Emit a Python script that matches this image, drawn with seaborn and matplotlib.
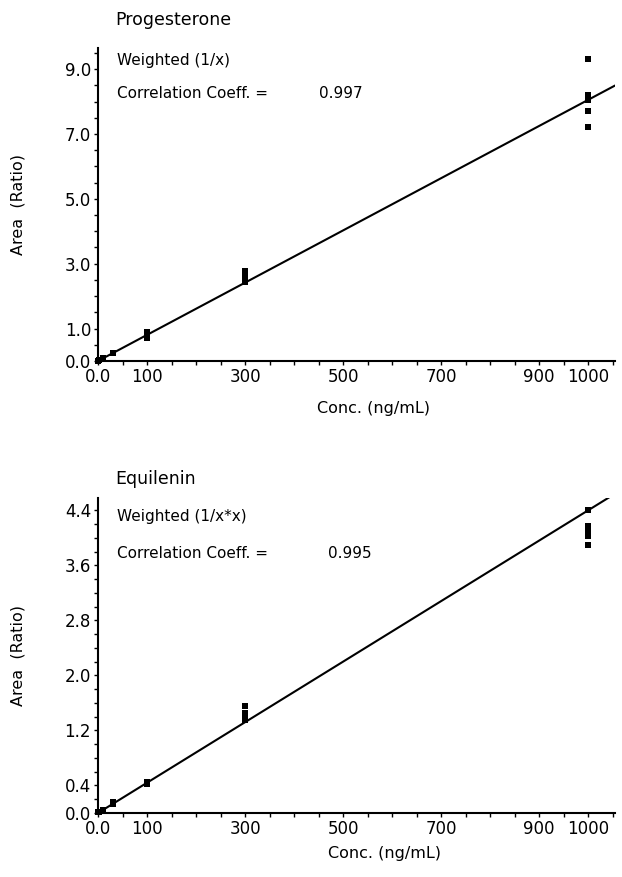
import matplotlib
matplotlib.use("Agg")
import matplotlib.pyplot as plt
import seaborn as sns
import numpy as np
import pandas as pd

# ---- data ----
prog_conc = [1, 3, 10, 30, 30, 100, 100, 100, 100, 300, 300, 300, 300, 300,
             1000, 1000, 1000, 1000, 1000]
prog_area = [0.01, 0.03, 0.08, 0.26, 0.24, 0.88, 0.82, 0.76, 0.72,
             2.78, 2.68, 2.58, 2.50, 2.45, 9.30, 8.20, 8.05, 7.70, 7.20]
prog_fit = (0.00805, 0.0)   # slope, intercept

equi_conc = [1, 3, 10, 30, 30, 100, 100, 300, 300, 300, 300,
             1000, 1000, 1000, 1000, 1000]
equi_area = [0.01, 0.02, 0.05, 0.16, 0.13, 0.45, 0.42, 1.55, 1.45, 1.40, 1.35,
             4.40, 4.17, 4.10, 4.03, 3.90]
equi_fit = (0.0044, 0.0)

x_ticks = [0, 100, 300, 500, 700, 900, 1000]
x_ticklabels = ["0.0", "100", "300", "500", "700", "900", "1000"]
prog_yticks = [0.0, 1.0, 3.0, 5.0, 7.0, 9.0]
equi_yticks = [0.0, 0.4, 1.2, 2.0, 2.8, 3.6, 4.4]

titles = ["Progesterone", "Equilenin"]
weights = ["Weighted (1/x)", "Weighted (1/x*x)"]
corrs = ["0.997", "0.995"]

sns.set_style("ticks")
plt.rcParams['font.family'] = ['DejaVu Sans']
plt.rcParams['text.color'] = 'black'
plt.rcParams['axes.labelcolor'] = 'black'
plt.rcParams['xtick.color'] = 'black'
plt.rcParams['ytick.color'] = 'black'

W, H = 622, 877
fig = plt.figure(figsize=(W / 100, H / 100), dpi=100)

def fx(px):
    return px / W

def fy(py):
    return 1 - py / H

ax1 = fig.add_axes([fx(98), fy(361), fx(615) - fx(98), fy(48) - fy(361)])
ax2 = fig.add_axes([fx(98), fy(813), fx(615) - fx(98), fy(498) - fy(813)])

xmax = 1055
panels = [
    (ax1, prog_conc, prog_area, prog_fit, prog_yticks, 9.65, 0.5),
    (ax2, equi_conc, equi_area, equi_fit, equi_yticks, 4.58, 0.2),
]

for ax, xc, ya, fit, yt, ymax, ystep in panels:
    df = pd.DataFrame({"conc": xc, "area": ya})
    xs = np.array([0, xmax])
    line_df = pd.DataFrame({"conc": xs, "area": fit[0] * xs + fit[1]})
    sns.lineplot(data=line_df, x="conc", y="area", ax=ax, color="black",
                 linewidth=1.5)
    sns.scatterplot(data=df, x="conc", y="area", ax=ax, marker="s", s=14,
                    color="black", edgecolor="black", linewidth=0, zorder=3,
                    clip_on=False)
    ax.set_xlim(0, xmax)
    ax.set_ylim(0, ymax)
    ax.set_xticks(x_ticks)
    ax.set_xticklabels(x_ticklabels)
    ax.set_xticks([v for v in range(50, 1051, 50) if v not in x_ticks], minor=True)
    ax.set_yticks(yt)
    ax.set_yticklabels([f"{v:.1f}" for v in yt])
    ax.set_yticks(np.arange(0, ymax + 1e-9, ystep), minor=True)
    ax.tick_params(axis="both", which="both", direction="out", length=3,
                   width=1, colors="black", labelsize=12, pad=2)
    for s in ["top", "right"]:
        ax.spines[s].set_visible(False)
    for s in ["left", "bottom"]:
        ax.spines[s].set_linewidth(1.5)
        ax.spines[s].set_color("black")
    ax.set_xlabel("Conc. (ng/mL)", fontsize=11.5)
    ax.set_ylabel("Area  (Ratio)", fontsize=11.5)
    ax.yaxis.set_label_coords(-0.14, 0.5)
    ax.grid(False)

ax1.xaxis.set_label_coords(0.532, -0.128)
ax2.xaxis.set_label_coords(0.555, -0.105)

# titles and annotations
fs = 11
fig.text(fx(115), fy(20), titles[0], fontsize=12.5, ha="left", va="center")
fig.text(fx(117), fy(61), weights[0], fontsize=fs, ha="left", va="center")
fig.text(fx(117), fy(93), "Correlation Coeff. =", fontsize=fs, ha="left", va="center")
fig.text(fx(319), fy(93), corrs[0], fontsize=fs, ha="left", va="center")

fig.text(fx(115), fy(479), titles[1], fontsize=12.5, ha="left", va="center")
fig.text(fx(117), fy(517), weights[1], fontsize=fs, ha="left", va="center")
fig.text(fx(117), fy(553), "Correlation Coeff. =", fontsize=fs, ha="left", va="center")
fig.text(fx(328), fy(553), corrs[1], fontsize=fs, ha="left", va="center")

fig.savefig("out.png", dpi=100)
